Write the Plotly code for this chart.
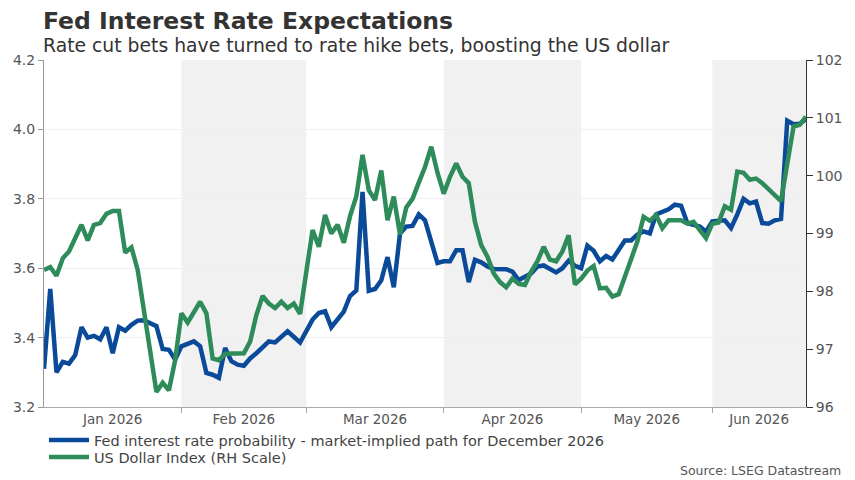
import pandas as pd
import plotly.graph_objects as go

# Fed funds implied path (left axis), vertices
fed_dates = ["2026-01-01", "2026-01-02", "2026-01-05", "2026-01-06", "2026-01-07", "2026-01-08",
             "2026-01-09", "2026-01-12", "2026-01-13", "2026-01-14", "2026-01-15", "2026-01-16",
             "2026-01-19", "2026-01-20", "2026-01-21", "2026-01-22", "2026-01-23", "2026-01-27",
             "2026-01-28", "2026-01-29", "2026-01-30", "2026-02-02", "2026-02-04", "2026-02-05",
             "2026-02-06", "2026-02-09", "2026-02-10", "2026-02-11", "2026-02-12", "2026-02-13",
             "2026-02-16", "2026-02-17", "2026-02-18", "2026-02-19", "2026-02-20", "2026-02-23",
             "2026-02-24", "2026-02-25", "2026-02-27", "2026-03-02", "2026-03-03", "2026-03-04",
             "2026-03-05", "2026-03-06", "2026-03-10", "2026-03-11", "2026-03-12", "2026-03-13",
             "2026-03-16", "2026-03-17", "2026-03-18", "2026-03-19", "2026-03-20", "2026-03-23",
             "2026-03-24", "2026-03-25", "2026-03-26", "2026-03-27", "2026-03-30", "2026-03-31",
             "2026-04-01", "2026-04-02", "2026-04-03", "2026-04-06", "2026-04-07", "2026-04-08",
             "2026-04-09", "2026-04-10", "2026-04-13", "2026-04-15", "2026-04-16", "2026-04-17",
             "2026-04-21", "2026-04-22", "2026-04-23", "2026-04-24", "2026-04-27", "2026-04-28",
             "2026-04-29", "2026-04-30", "2026-05-01", "2026-05-04", "2026-05-05", "2026-05-06",
             "2026-05-07", "2026-05-08", "2026-05-11", "2026-05-12", "2026-05-13", "2026-05-14",
             "2026-05-15", "2026-05-18", "2026-05-19", "2026-05-21", "2026-05-22", "2026-05-25",
             "2026-05-26", "2026-05-27", "2026-05-28", "2026-05-29", "2026-06-01", "2026-06-03",
             "2026-06-04", "2026-06-05", "2026-06-08", "2026-06-09", "2026-06-10", "2026-06-11",
             "2026-06-12", "2026-06-15", "2026-06-16", "2026-06-17", "2026-06-18", "2026-06-19",
             "2026-06-22"]
fed_rate = [3.31, 3.54, 3.30, 3.33, 3.325, 3.35,
            3.43, 3.40, 3.405, 3.395, 3.43, 3.355,
            3.43, 3.42, 3.437, 3.449, 3.45, 3.433,
            3.367, 3.365, 3.337, 3.375, 3.389, 3.375,
            3.298, 3.293, 3.284, 3.37, 3.332, 3.322,
            3.319, 3.34, 3.355, 3.37, 3.389, 3.386,
            3.40, 3.418, 3.386, 3.42, 3.452, 3.471,
            3.476, 3.43, 3.475, 3.52, 3.536, 3.82,
            3.535, 3.54, 3.565, 3.632, 3.545, 3.70,
            3.72, 3.722, 3.755, 3.738, 3.68, 3.615,
            3.62, 3.62, 3.652, 3.652, 3.56, 3.624,
            3.617, 3.605, 3.598, 3.597, 3.59, 3.566,
            3.585, 3.605, 3.608, 3.598, 3.588, 3.60,
            3.622, 3.607, 3.60, 3.665, 3.65, 3.62,
            3.635, 3.625, 3.652, 3.68, 3.68, 3.697,
            3.706, 3.70, 3.755, 3.77, 3.783, 3.78,
            3.73, 3.725, 3.72, 3.705, 3.735, 3.738,
            3.716, 3.755, 3.80, 3.787, 3.792, 3.73,
            3.728, 3.738, 3.742, 4.025, 4.015, 4.016,
            4.03]

# US Dollar Index (right axis)
dxy_dates = ["2026-01-01", "2026-01-02", "2026-01-05", "2026-01-06", "2026-01-07", "2026-01-08",
             "2026-01-09", "2026-01-12", "2026-01-13", "2026-01-14", "2026-01-15", "2026-01-16",
             "2026-01-19", "2026-01-20", "2026-01-21", "2026-01-22", "2026-01-23", "2026-01-27",
             "2026-01-28", "2026-01-29", "2026-01-30", "2026-02-02", "2026-02-03", "2026-02-05",
             "2026-02-06", "2026-02-09", "2026-02-10", "2026-02-11", "2026-02-16", "2026-02-17",
             "2026-02-18", "2026-02-19", "2026-02-20", "2026-02-23", "2026-02-24", "2026-02-25",
             "2026-02-26", "2026-02-27", "2026-03-02", "2026-03-03", "2026-03-04", "2026-03-05",
             "2026-03-06", "2026-03-09", "2026-03-10", "2026-03-11", "2026-03-12", "2026-03-13",
             "2026-03-16", "2026-03-17", "2026-03-18", "2026-03-19", "2026-03-20", "2026-03-23",
             "2026-03-24", "2026-03-25", "2026-03-26", "2026-03-27", "2026-03-30", "2026-03-31",
             "2026-04-01", "2026-04-02", "2026-04-03", "2026-04-06", "2026-04-07", "2026-04-08",
             "2026-04-09", "2026-04-10", "2026-04-13", "2026-04-14", "2026-04-15", "2026-04-16",
             "2026-04-17", "2026-04-20", "2026-04-21", "2026-04-22", "2026-04-23", "2026-04-24",
             "2026-04-27", "2026-04-28", "2026-04-29", "2026-04-30", "2026-05-01", "2026-05-04",
             "2026-05-05", "2026-05-06", "2026-05-07", "2026-05-08", "2026-05-11", "2026-05-12",
             "2026-05-13", "2026-05-14", "2026-05-15", "2026-05-18", "2026-05-19", "2026-05-20",
             "2026-05-21", "2026-05-22", "2026-05-25", "2026-05-26", "2026-05-27", "2026-05-28",
             "2026-05-29", "2026-06-01", "2026-06-02", "2026-06-03", "2026-06-04", "2026-06-05",
             "2026-06-08", "2026-06-09", "2026-06-10", "2026-06-11", "2026-06-16", "2026-06-18",
             "2026-06-19", "2026-06-22"]
dxy = [98.37, 98.42, 98.27, 98.57, 98.69, 98.90,
       99.15, 98.88, 99.15, 99.18, 99.34, 99.39,
       99.39, 98.67, 98.76, 98.37, 97.68, 96.26,
       96.42, 96.29, 96.81, 97.62, 97.46, 97.82,
       97.62, 96.84, 96.81, 96.92, 96.93, 97.13,
       97.59, 97.92, 97.79, 97.71, 97.82, 97.71,
       97.79, 97.61, 98.34, 99.06, 98.77, 99.32,
       99.00, 99.15, 98.84, 99.30, 99.64, 100.36,
       99.75, 99.58, 100.09, 99.23, 99.64, 98.98,
       99.45, 99.60, 99.88, 100.15, 100.50, 100.05,
       99.69, 99.98, 100.21, 99.98, 99.87, 99.20,
       98.80, 98.60, 98.31, 98.16, 98.07, 98.22,
       98.13, 98.11, 98.34, 98.52, 98.77, 98.55,
       98.52, 98.69, 98.97, 98.12, 98.22, 98.36,
       98.44, 98.05, 98.06, 97.91, 97.95, 98.27,
       98.55, 98.86, 99.29, 99.22, 99.32, 99.09,
       99.23, 99.23, 99.23, 99.17, 99.20, 99.06,
       98.92, 99.17, 99.19, 99.47, 99.41, 100.07,
       100.05, 99.93, 99.95, 99.87, 99.56, 100.85,
       100.88, 101.02]

month_starts = ["2026-01-01", "2026-02-02", "2026-03-02", "2026-04-01", "2026-05-01", "2026-06-01", "2026-06-22"]
month_names = ["Jan 2026", "Feb 2026", "Mar 2026", "Apr 2026", "May 2026", "Jun 2026"]

BLUE = "#0b4a99"
GREEN = "#2e8b5a"
FONT = "DejaVu Sans, Verdana, sans-serif"

# label positions: middle business day of each month span
bdays = pd.bdate_range(month_starts[0], month_starts[-1])
idx = [bdays.get_loc(pd.Timestamp(d)) for d in month_starts]
label_pos = []
for a, b in zip(idx[:-1], idx[1:]):
    m = (a + b) / 2
    t = bdays[int(m)]
    if m != int(m):
        t = t + pd.Timedelta(hours=12)
    label_pos.append(t)

fig = go.Figure()
fig.add_trace(go.Scatter(x=fed_dates, y=fed_rate, mode="lines",
                         name="Fed interest rate probability - market-implied path for December 2026",
                         line=dict(color=BLUE, width=4.5), legend="legend"))
fig.add_trace(go.Scatter(x=dxy_dates, y=dxy, mode="lines", yaxis="y2",
                         name="US Dollar Index (RH Scale)",
                         line=dict(color=GREEN, width=4.5), legend="legend2"))

# shaded alternate months
for i in [1, 3, 5]:
    fig.add_shape(type="rect", xref="x", yref="paper", x0=month_starts[i], x1=month_starts[i + 1],
                  y0=0, y1=1, fillcolor="#f1f1f1", line_width=0, layer="below")

leg_style = dict(x=0, xanchor="left", yanchor="middle", orientation="v",
                 font=dict(family=FONT, size=14.5, color="#444444"), bgcolor="rgba(0,0,0,0)",
                 itemwidth=40)

# page body adds an 8px offset, so the figure is 8px smaller than the window
fig.update_layout(
    width=847, height=472,
    margin=dict(l=36, r=49, t=52, b=73, autoexpand=False),
    paper_bgcolor="white", plot_bgcolor="white",
    font=dict(family=FONT, size=14, color="#555555"),
    showlegend=True,
    legend=dict(y=-0.095, **leg_style),
    legend2=dict(y=-0.144, **leg_style),
    xaxis=dict(type="date", range=[month_starts[0], month_starts[-1]], automargin=False,
               rangebreaks=[dict(bounds=["sat", "mon"])],
               tickvals=label_pos, ticktext=month_names, ticks="",
               showgrid=False, showline=True, linecolor="#aaaaaa", linewidth=1,
               tickfont=dict(size=13.5, color="#555555"),
               minor=dict(tickvals=month_starts[1:-1], ticks="outside", ticklen=5,
                          tickcolor="#aaaaaa", showgrid=False)),
    yaxis=dict(range=[3.2, 4.2], dtick=0.2, tickformat=".1f", ticks="outside", ticklen=5,
               tickcolor="#999999", showline=True, linecolor="#999999", linewidth=1,
               gridcolor="#f0f0f0", zeroline=False, automargin=False,
               tickfont=dict(size=14, color="#555555")),
    yaxis2=dict(range=[96, 102], dtick=1, overlaying="y", side="right", ticks="outside",
                ticklen=6, tickcolor="#333333", showline=True, linecolor="#333333", linewidth=1,
                showgrid=False, zeroline=False, automargin=False,
                tickfont=dict(size=14, color="#555555")),
)

fig.add_annotation(text="<b>Fed Interest Rate Expectations</b>", xref="paper", yref="paper",
                   x=0, y=1.113, xanchor="left", yanchor="middle", xshift=-3, showarrow=False,
                   font=dict(size=23.5, color="#333333"))
fig.add_annotation(text="Rate cut bets have turned to rate hike bets, boosting the US dollar",
                   xref="paper", yref="paper", x=0, y=1.042, xanchor="left", yanchor="middle",
                   xshift=-3, showarrow=False, font=dict(size=18.8, color="#333333"))
fig.add_annotation(text="Source: LSEG Datastream", xref="paper", yref="paper",
                   x=1.0486, y=-0.1816, xanchor="right", yanchor="middle", showarrow=False,
                   font=dict(size=12.5, color="#555555"))

fig.write_html("out.html")
